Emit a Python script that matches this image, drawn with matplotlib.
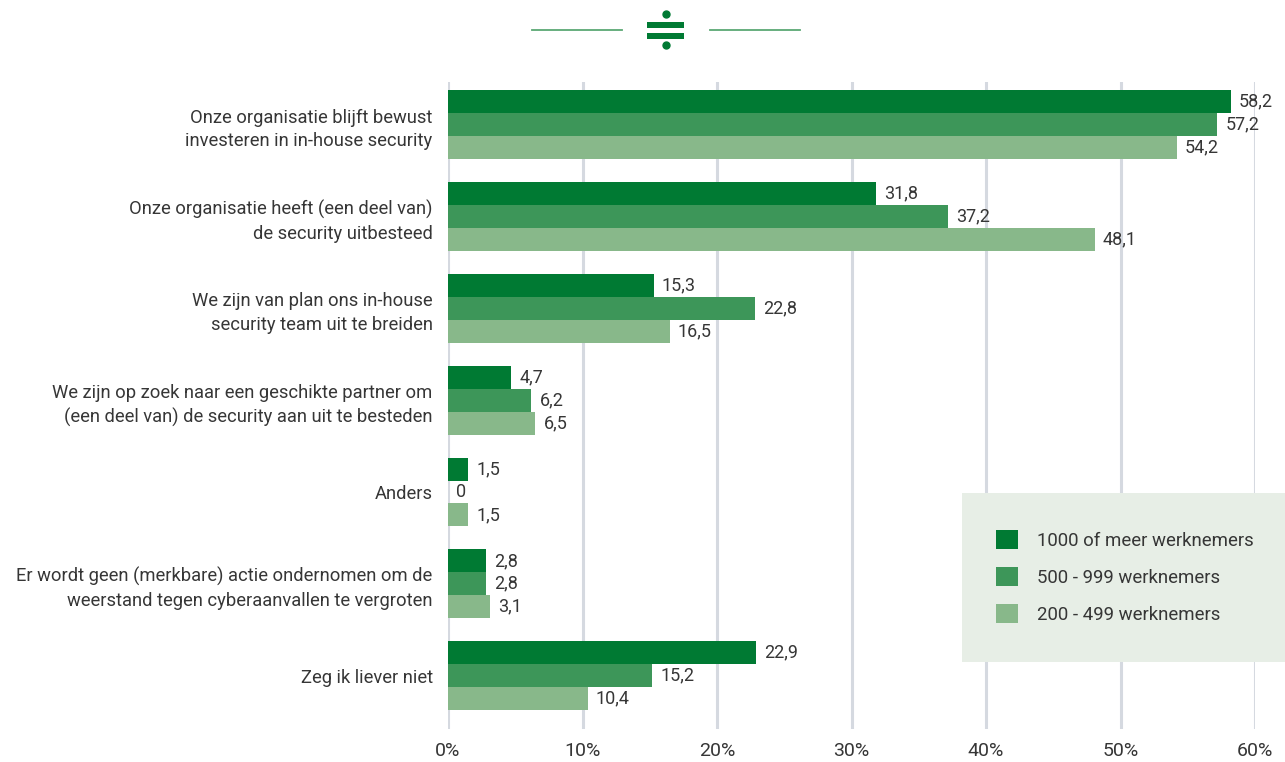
import matplotlib.pyplot as plt
import numpy as np
from matplotlib.patches import Rectangle
from matplotlib.lines import Line2D

plt.rcParams["font.family"] = ["Roboto", "DejaVu Sans"]

categories = [
    "Onze organisatie blijft bewust\ninvesteren in in-house security",
    "Onze organisatie heeft (een deel van)\nde security uitbesteed",
    "We zijn van plan ons in-house\nsecurity team uit te breiden",
    "We zijn op zoek naar een geschikte partner om\n(een deel van) de security aan uit te besteden",
    "Anders",
    "Er wordt geen (merkbare) actie ondernomen om de\nweerstand tegen cyberaanvallen te vergroten",
    "Zeg ik liever niet",
]
series_names = ["1000 of meer werknemers", "500 - 999 werknemers", "200 - 499 werknemers"]
large = [58.2, 31.8, 15.3, 4.7, 1.5, 2.8, 22.9]
medium = [57.2, 37.2, 22.8, 6.2, 0.0, 2.8, 15.2]
small = [54.2, 48.1, 16.5, 6.5, 1.5, 3.1, 10.4]
x_ticks = [0, 10, 20, 30, 40, 50, 60]

colors = ["#007a33", "#3d9659", "#88b88a"]
text_color = "#363636"
W, H = 1285, 762

fig = plt.figure(figsize=(W / 100, H / 100), dpi=100)
ax = fig.add_axes([448 / W, 1 - 729 / H, (1255 - 448) / W, (729 - 82) / H])

y = np.arange(len(categories))
bar_h = 0.25
for k, (vals, col) in enumerate(zip([large, medium, small], colors)):
    pos = y + (k - 1) * bar_h
    ax.barh(pos, vals, height=bar_h, color=col, zorder=3, linewidth=0)
    for p, v in zip(pos, vals):
        label = f"{v:.1f}".replace(".", ",") if v != 0 else "0"
        ax.text(v + 0.6, p, label, va="center", ha="left", fontsize=13,
                color=text_color, zorder=4)

ax.set_xlim(0, 60)
ax.set_ylim(6.58, -0.463)
ax.set_xticks(x_ticks)
ax.set_xticklabels([f"{t}%" for t in x_ticks], fontsize=14, color=text_color)
ax.set_yticks(y)
ax.set_yticklabels(categories, fontsize=13.2, color=text_color, linespacing=1.4)
ax.tick_params(axis="both", length=0)
ax.tick_params(axis="y", pad=11)
ax.tick_params(axis="x", pad=9)
ax.grid(axis="x", color="#d5d9e0", linewidth=2.2, zorder=0)
ax.grid(axis="y", visible=False)
for s in ax.spines.values():
    s.set_visible(False)

# legend panel
fig.add_artist(Rectangle((962 / W, 1 - 662 / H), (W - 962) / W, 169 / H,
                         transform=fig.transFigure, facecolor="#e7eee6",
                         edgecolor="none", zorder=5))
handles = [Rectangle((0, 0), 1, 1, facecolor=c, edgecolor="none") for c in colors]
leg = fig.legend(handles, series_names, loc="upper left",
                 bbox_to_anchor=(996 / W, 1 - 530 / H), frameon=False,
                 fontsize=13.4, handlelength=1.2, handleheight=1.2,
                 handletextpad=1.0, labelspacing=0.92, borderpad=0,
                 borderaxespad=0, labelcolor=text_color)
leg.set_zorder(6)

# header ornament
green = "#007a33"
for x0, x1 in [(532, 622), (710, 800)]:
    fig.add_artist(Line2D([x0 / W, x1 / W], [1 - 29.5 / H] * 2,
                          transform=fig.transFigure, color="#5aa874", linewidth=1.3))
for yb in [22, 33]:
    fig.add_artist(Rectangle((647 / W, 1 - (yb + 5.5) / H), 37 / W, 5.5 / H,
                             transform=fig.transFigure, facecolor=green, edgecolor="none"))
for yc in [14, 45]:
    fig.add_artist(Line2D([665.5 / W], [1 - yc / H], transform=fig.transFigure,
                          marker="o", markersize=5, color=green, linestyle="none"))

fig.savefig("out.png", dpi=100)
